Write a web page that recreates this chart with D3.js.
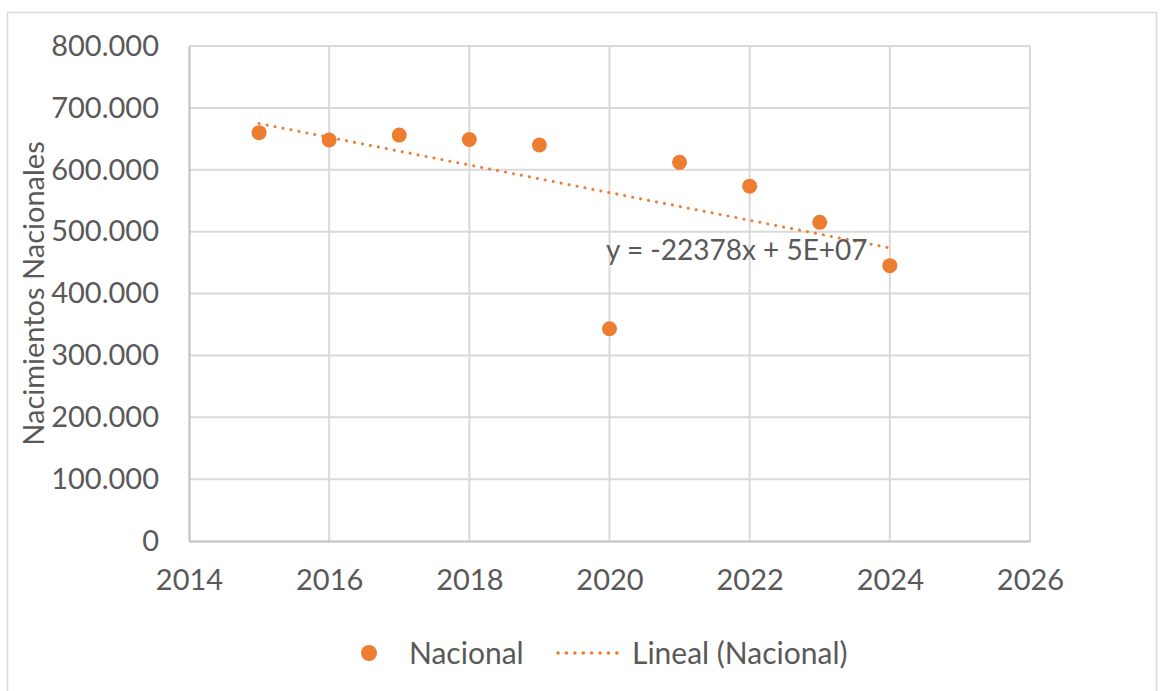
<!DOCTYPE html>
<html>
<head>
<meta charset="utf-8">
<script src="https://cdn.jsdelivr.net/npm/d3@7"></script>
<style>
  body { margin: 0; background: #fff; }
  svg text { font-family: Lato, "Open Sans", sans-serif; fill: #595959; }
</style>
</head>
<body>
<svg id="chart" width="1161" height="691"></svg>
<script>
// data
var years = [2015, 2016, 2017, 2018, 2019, 2020, 2021, 2022, 2023, 2024];
var births = [660000, 648000, 656000, 649000, 640000, 343000, 612000, 573500, 515000, 445000];
var xTicks = [2014, 2016, 2018, 2020, 2022, 2024, 2026];
var yTicks = [0, 100000, 200000, 300000, 400000, 500000, 600000, 700000, 800000];
var seriesName = "Nacional";
var trendName = "Lineal (Nacional)";
var equation = "y = -22378x + 5E+07";
var yTitle = "Nacimientos Nacionales";

(function () {
    var orange = "#ED7D31";
    var svg = d3.select("#chart");

    var pLeft = 189, pRight = 1030, pTop = 46, pBottom = 541;

    var x = d3.scaleLinear().domain([2014, 2026]).range([pLeft, pRight]);
    var y = d3.scaleLinear().domain([0, 800000]).range([pBottom, pTop]);

    var es = d3.formatLocale({decimal: ",", thousands: ".", grouping: [3], currency: ["", "€"]});
    var fmt = es.format(",d");

    // chart border
    svg.append("rect")
        .attr("x", 7.5).attr("y", 12.5)
        .attr("width", 1149).attr("height", 700)
        .attr("fill", "none").attr("stroke", "#d9d9d9").attr("stroke-width", 1.5);

    // gridlines
    svg.append("g").selectAll("line")
        .data(yTicks.slice(1))
        .enter().append("line")
        .attr("x1", pLeft).attr("x2", pRight)
        .attr("y1", d => y(d)).attr("y2", d => y(d))
        .attr("stroke", "#d9d9d9").attr("stroke-width", 2);

    svg.append("g").selectAll("line")
        .data(xTicks.slice(1))
        .enter().append("line")
        .attr("x1", d => x(d)).attr("x2", d => x(d))
        .attr("y1", pTop).attr("y2", pBottom)
        .attr("stroke", "#d9d9d9").attr("stroke-width", 2);

    // axes
    var yAxis = svg.append("g")
        .attr("transform", "translate(" + pLeft + ",0)")
        .call(d3.axisLeft(y).tickValues(yTicks).tickFormat(fmt).tickSize(0).tickPadding(30));
    yAxis.select(".domain").attr("stroke", "#bfbfbf").attr("stroke-width", 2);
    yAxis.selectAll("text").style("font-size", "29px").attr("fill", "#595959");

    var xAxis = svg.append("g")
        .attr("transform", "translate(0," + pBottom + ")")
        .call(d3.axisBottom(x).tickValues(xTicks).tickFormat(d3.format("d")).tickSize(0).tickPadding(28));
    xAxis.select(".domain").attr("stroke", "#bfbfbf").attr("stroke-width", 2);
    xAxis.selectAll("text").style("font-size", "29px").attr("fill", "#595959");

    // axis title
    svg.append("text")
        .attr("transform", "translate(44," + ((pTop + pBottom) / 2) + ") rotate(-90)")
        .attr("text-anchor", "middle")
        .style("font-size", "29px")
        .text(yTitle);

    // linear trend computed from the data
    var mx = d3.mean(years), my = d3.mean(births);
    var sxy = d3.sum(years, (d, i) => (d - mx) * (births[i] - my));
    var sxx = d3.sum(years, d => (d - mx) * (d - mx));
    var slope = sxy / sxx, icpt = my - slope * mx;
    var ends = d3.extent(years);

    svg.append("line")
        .attr("x1", x(ends[0])).attr("y1", y(icpt + slope * ends[0]))
        .attr("x2", x(ends[1])).attr("y2", y(icpt + slope * ends[1]))
        .attr("stroke", orange).attr("stroke-width", 3)
        .attr("stroke-linecap", "round")
        .attr("stroke-dasharray", "0.1 8");

    // points
    svg.append("g").selectAll("circle")
        .data(years)
        .enter().append("circle")
        .attr("cx", d => x(d))
        .attr("cy", (d, i) => y(births[i]))
        .attr("r", 7.5)
        .attr("fill", orange);

    // equation label
    svg.append("text")
        .attr("x", 606).attr("y", 260)
        .style("font-size", "28px")
        .text(equation);

    // legend
    var lg = svg.append("g");
    lg.append("circle").attr("cx", 369).attr("cy", 653).attr("r", 8).attr("fill", orange);
    lg.append("text").attr("x", 409).attr("y", 664).style("font-size", "30px").text(seriesName);
    lg.append("line")
        .attr("x1", 558).attr("x2", 625).attr("y1", 653).attr("y2", 653)
        .attr("stroke", orange).attr("stroke-width", 3.5)
        .attr("stroke-linecap", "round").attr("stroke-dasharray", "0.1 8.3");
    lg.append("text").attr("x", 632).attr("y", 664).style("font-size", "30px").text(trendName);
})();
</script>
</body>
</html>
